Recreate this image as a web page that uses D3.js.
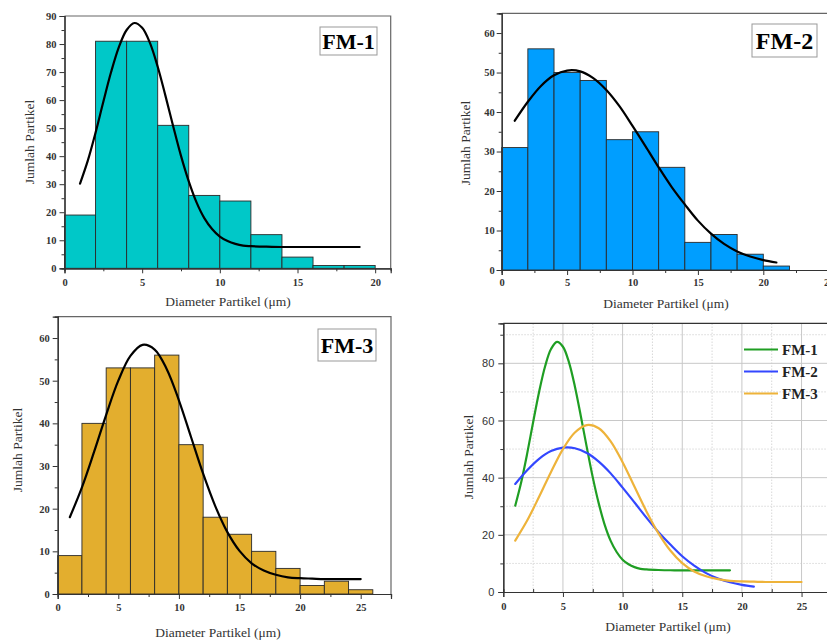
<!DOCTYPE html>
<html><head><meta charset="utf-8">
<script src="https://cdn.jsdelivr.net/npm/d3@7"></script>
<style>body{margin:0;background:#fff}svg{display:block}</style>
</head><body>
<svg id="c" width="827" height="642"></svg>
<script>
// ---------- data ----------
const binStarts = [0, 2, 4, 6, 8, 10, 12, 14, 16, 18, 20, 22, 24];
const binWidth = 2;
const fm1Counts = [19, 81, 81, 51, 26, 24, 12, 4, 1, 1];
const fm2Counts = [31, 56, 50, 48, 33, 35, 26, 7, 9, 4, 1];
const fm3Counts = [9, 40, 53, 53, 56, 35, 18, 14, 10, 6, 2, 3, 1];

const fm1FitX = [1, 1.5, 2, 2.5, 3, 3.5, 4, 4.5, 5, 5.5, 6, 6.5, 7, 7.5, 8, 8.5, 9, 9.5, 10, 10.5, 11, 11.5, 12, 13, 14, 15, 16, 17, 18, 19];
const fm1FitY = [30.2, 38.4, 48.4, 59.4, 70.0, 78.9, 85.0, 87.5, 85.8, 80.4, 71.9, 61.5, 50.6, 40.1, 31.0, 23.5, 17.9, 14.0, 11.3, 9.7, 8.7, 8.1, 7.9, 7.7, 7.6, 7.6, 7.6, 7.6, 7.6, 7.6];
const fm2FitX = [1, 2, 3, 4, 5, 6, 7, 8, 9, 10, 11, 12, 13, 14, 15, 16, 17, 18, 19, 20, 21];
const fm2FitY = [37.8, 42.6, 46.6, 49.3, 50.5, 50.3, 48.6, 45.6, 41.5, 36.5, 31.3, 26.0, 21.0, 16.6, 12.5, 9.2, 6.6, 4.7, 3.4, 2.5, 1.9];
const fm3FitX = [1, 2, 3, 4, 5, 6, 7, 8, 9, 10, 11, 12, 13, 14, 15, 16, 17, 18, 19, 20, 21, 22, 23, 24, 25];
const fm3FitY = [18.0, 25.0, 33.3, 42.0, 50.0, 55.8, 58.4, 57.3, 52.7, 45.4, 36.8, 28.2, 20.6, 14.5, 10.1, 7.2, 5.5, 4.5, 3.9, 3.7, 3.6, 3.5, 3.5, 3.5, 3.5];

const seriesNames = ["FM-1", "FM-2", "FM-3"];
const xTickVals = [0, 5, 10, 15, 20, 25];
const xTitle = "Diameter Partikel (\u03bcm)";
const yTitle = "Jumlah Partikel";

// ---------- styles ----------
const histColors = ["#00c8c8", "#009eff", "#e3ae2e"];
const lineColors = ["#1f9e23", "#3347ff", "#eeb33a"];
const serif = "'Liberation Serif','Times New Roman',serif";
const sans = "'Liberation Sans',Arial,sans-serif";

const svg = d3.select("#c");

function styleAxis(g, font, bold, size) {
  g.select(".domain").attr("stroke", "#333").attr("stroke-width", 1.2);
  g.selectAll(".tick line").attr("stroke", "#333").attr("stroke-width", 1);
  g.selectAll(".tick text").attr("font-family", font).attr("font-size", size)
    .attr("font-weight", bold ? "bold" : "normal").attr("fill", "#333");
}

function panel(cfg) {
  const g = svg.append("g");
  const x = d3.scaleLinear().domain(cfg.xDomain).range(cfg.xRange);
  const y = d3.scaleLinear().domain(cfg.yDomain).range(cfg.yRange);
  const [xl, xr] = cfg.xRange, [yb, yt] = cfg.yRange;

  if (cfg.grid) {
    const gg = g.append("g");
    cfg.yMinor.forEach(v => gg.append("line").attr("x1", xl).attr("x2", xr).attr("y1", y(v)).attr("y2", y(v))
      .attr("stroke", "#d8d8d8").attr("stroke-dasharray", "1.5,1.5"));
    cfg.xMinor.forEach(v => gg.append("line").attr("y1", yb).attr("y2", yt).attr("x1", x(v)).attr("x2", x(v))
      .attr("stroke", "#d8d8d8").attr("stroke-dasharray", "1.5,1.5"));
    cfg.yTicks.filter(v => v > 0).forEach(v => gg.append("line").attr("x1", xl).attr("x2", xr).attr("y1", y(v)).attr("y2", y(v))
      .attr("stroke", "#c8c8c8").attr("stroke-width", 1));
    cfg.xTicks.filter(v => v > 0).forEach(v => gg.append("line").attr("y1", yb).attr("y2", yt).attr("x1", x(v)).attr("x2", x(v))
      .attr("stroke", "#c8c8c8").attr("stroke-width", 1));
  }

  if (cfg.counts) {
    g.append("g").selectAll("rect").data(cfg.counts).join("rect")
      .attr("x", (d, i) => x(binStarts[i]))
      .attr("width", (d, i) => x(binStarts[i] + binWidth) - x(binStarts[i]))
      .attr("y", d => y(d))
      .attr("height", d => y(0) - y(d))
      .attr("fill", cfg.fill).attr("stroke", "#2a2a2a").attr("stroke-width", 0.9);
  }

  // frame (top / right)
  g.append("path").attr("d", `M${xl},${yt}H${xr}V${yb}`).attr("fill", "none")
    .attr("stroke", cfg.grid ? "#333" : "#666").attr("stroke-width", 1.2);

  const line = d3.line().x(d => x(d[0])).y(d => y(d[1])).curve(d3.curveCatmullRom);
  cfg.fits.forEach(f => {
    g.append("path").datum(f.xs.map((v, i) => [v, f.ys[i]])).attr("d", line)
      .attr("fill", "none").attr("stroke", f.color).attr("stroke-width", 2.2).attr("stroke-linecap", "round");
  });

  // axes
  const minorDirX = cfg.grid ? -3 : 3;
  const xMinorAx = g.append("g").attr("transform", `translate(0,${yb})`)
    .call(d3.axisBottom(x).tickValues(cfg.xMinor).tickSize(minorDirX).tickFormat(""));
  styleAxis(xMinorAx, serif, true, 10);
  const yMinorAx = g.append("g").attr("transform", `translate(${xl},0)`)
    .call(d3.axisLeft(y).tickValues(cfg.yMinor).tickSize(3).tickFormat(""));
  styleAxis(yMinorAx, serif, true, 10);

  const xAx = g.append("g").attr("transform", `translate(0,${yb})`)
    .call(d3.axisBottom(x).tickValues(cfg.xTicks).tickSize(5).tickPadding(cfg.xPad));
  styleAxis(xAx, serif, true, 10.5);
  const yAx = g.append("g").attr("transform", `translate(${xl},0)`)
    .call(d3.axisLeft(y).tickValues(cfg.yTicks).tickSize(5).tickPadding(cfg.yPad));
  styleAxis(yAx, cfg.grid ? sans : serif, !cfg.grid, cfg.grid ? 11 : 10.5);

  // titles
  g.append("text").attr("x", cfg.xTitlePos[0]).attr("y", cfg.xTitlePos[1]).attr("text-anchor", "middle")
    .attr("font-family", serif).attr("font-size", 13.5).attr("fill", "#333").text(xTitle);
  g.append("text").attr("transform", `translate(${cfg.yTitlePos[0]},${cfg.yTitlePos[1]}) rotate(-90)`)
    .attr("text-anchor", "middle").attr("dominant-baseline", "central")
    .attr("font-family", serif).attr("font-size", 13.5).attr("fill", "#333").text(yTitle);

  if (cfg.label) {
    const [bx, by, bw, bh, fs] = cfg.label.box;
    g.append("rect").attr("x", bx).attr("y", by).attr("width", bw).attr("height", bh)
      .attr("fill", "#fff").attr("stroke", "#999").attr("stroke-width", 1);
    g.append("text").attr("x", bx + bw / 2).attr("y", by + bh / 2).attr("text-anchor", "middle")
      .attr("dominant-baseline", "central").attr("font-family", serif).attr("font-weight", "bold")
      .attr("font-size", fs).attr("fill", "#000").text(cfg.label.text);
  }

  if (cfg.legend) {
    const [lx, ly, dy] = cfg.legend;
    seriesNames.forEach((n, i) => {
      g.append("line").attr("x1", lx).attr("x2", lx + 34).attr("y1", ly + i * dy).attr("y2", ly + i * dy)
        .attr("stroke", lineColors[i]).attr("stroke-width", 2.2);
      g.append("text").attr("x", lx + 38).attr("y", ly + i * dy).attr("dominant-baseline", "central")
        .attr("font-family", serif).attr("font-weight", "bold").attr("font-size", 15).attr("fill", "#222").text(n);
    });
  }
}

const tenStep = [0, 10, 20, 30, 40, 50, 60, 70, 80, 90];
const minorFive = [5, 15, 25, 35, 45, 55, 65, 75, 85];
const xMinorVals = [2.5, 7.5, 12.5, 17.5, 22.5, 27.5];

panel({
  xDomain: [0, 21], xRange: [64.5, 390.7], yDomain: [0, 90], yRange: [268.3, 16],
  xTicks: xTickVals.slice(0, 5), xMinor: xMinorVals.slice(0, 4), yTicks: tenStep, yMinor: minorFive,
  counts: fm1Counts, fill: histColors[0],
  fits: [{ xs: fm1FitX, ys: fm1FitY, color: "#000" }],
  xPad: 5, yPad: 3, xTitlePos: [228, 306], yTitlePos: [29, 142],
  label: { text: seriesNames[0], box: [320, 27, 57, 28, 22] }
});
panel({
  xDomain: [0, 27.5], xRange: [501.7, 501.7 + 27.5 * 13.08], yDomain: [0, 65], yRange: [270, 13.3],
  xTicks: xTickVals, xMinor: xMinorVals, yTicks: tenStep.slice(0, 7), yMinor: minorFive.slice(0, 7),
  counts: fm2Counts, fill: histColors[1],
  fits: [{ xs: fm2FitX, ys: fm2FitY, color: "#000" }],
  xPad: 4, yPad: 2, xTitlePos: [666, 308], yTitlePos: [465, 143],
  label: { text: seriesNames[1], box: [752, 24, 65, 33, 24] }
});
panel({
  xDomain: [0, 27.5], xRange: [57.7, 391], yDomain: [0, 65], yRange: [594, 316.7],
  xTicks: xTickVals, xMinor: xMinorVals.slice(0, 5), yTicks: tenStep.slice(0, 7), yMinor: minorFive.slice(0, 7),
  counts: fm3Counts, fill: histColors[2],
  fits: [{ xs: fm3FitX, ys: fm3FitY, color: "#000" }],
  xPad: 5, yPad: 3, xTitlePos: [218, 637], yTitlePos: [17, 450],
  label: { text: seriesNames[2], box: [318, 329, 58, 32, 22] }
});
panel({
  xDomain: [0, 27.5], xRange: [503.3, 503.3 + 27.5 * 11.93], yDomain: [0, 94], yRange: [592, 323.3],
  xTicks: xTickVals, xMinor: xMinorVals, yTicks: [0, 20, 40, 60, 80], yMinor: [10, 30, 50, 70, 90],
  grid: true,
  fits: [
    { xs: fm1FitX, ys: fm1FitY, color: lineColors[0] },
    { xs: fm2FitX, ys: fm2FitY, color: lineColors[1] },
    { xs: fm3FitX, ys: fm3FitY, color: lineColors[2] }
  ],
  xPad: 6, yPad: 4, xTitlePos: [668, 631], yTitlePos: [468, 457],
  legend: [744, 349.5, 22]
});
</script>
</body></html>
